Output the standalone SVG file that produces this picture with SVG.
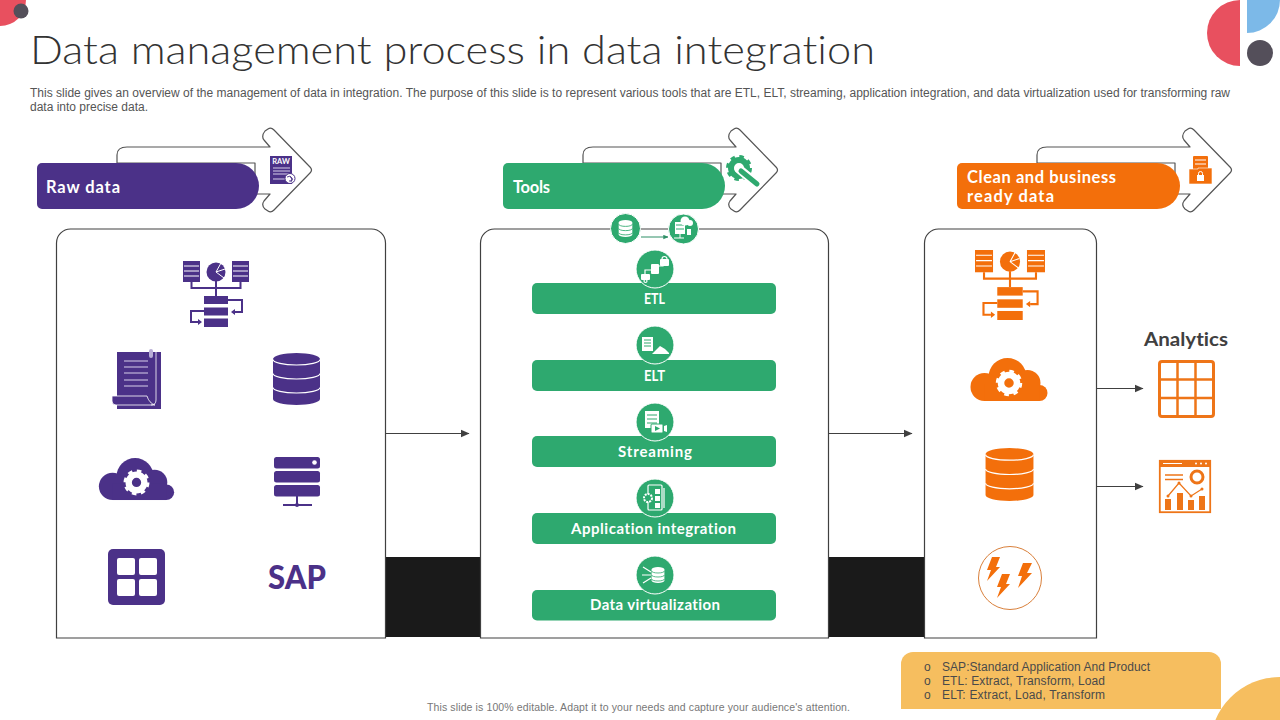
<svg xmlns="http://www.w3.org/2000/svg" width="1280" height="720" viewBox="0 0 1280 720">
<style>
text{font-family:"Lato","Liberation Sans",sans-serif;font-variant-ligatures:none}
.title{font-size:39px;font-weight:300;fill:#333}
.desc{font-family:"Liberation Sans",Arial,sans-serif;font-size:12px;fill:#555}
.foot{font-family:"Liberation Sans",Arial,sans-serif;font-size:10.5px;fill:#777}
.note{font-family:"Liberation Sans",Arial,sans-serif;font-size:12px;fill:#4a4a4a}
.head{font-size:16.5px;font-weight:700;fill:#fff}
.bar{font-size:15px;font-weight:700;fill:#fff;text-anchor:middle}
.panel{fill:#fff;stroke:#404040;stroke-width:1.2}
.outline{fill:#fff;stroke:#555;stroke-width:1.2;stroke-linejoin:round}
.conn{stroke:#404040;stroke-width:1.2;fill:none}
.gbar{fill:#2EA96F}
.gc{fill:#2EA96F;stroke:#fff;stroke-width:1}
.wl{fill:none;stroke:#fff;stroke-width:1.2}
.w{fill:#fff}
</style>
<defs>
<marker id="ah" viewBox="0 0 8 8" refX="7.500" refY="4" markerWidth="9" markerHeight="9" markerUnits="userSpaceOnUse" orient="auto"><path d="M0,0.500L8,4L0,7.500Z" fill="#404040"/></marker>
<marker id="ahg" viewBox="0 0 8 8" refX="7.500" refY="4" markerWidth="5" markerHeight="5" markerUnits="userSpaceOnUse" orient="auto"><path d="M0,0.500L8,4L0,7.500Z" fill="#2E8F66"/></marker>
<path id="arrow" class="outline" d="M117,163V155Q117,147 127,147H270L264,140Q261,136 265,131L268,129Q271,127 274,130L310,167Q313,170 310,173L274,210Q271,213 268,211L265,209Q261,205 264,201L270,194H255V163Z"/>
<symbol id="net" viewBox="0 0 66 66" overflow="visible">
<g fill="currentColor"><rect x="0" y="0" width="17" height="21"/><rect x="49" y="0" width="17" height="21"/><circle cx="33" cy="11" r="9.500"/><rect x="21" y="35" width="24" height="8"/><rect x="21" y="46.500" width="24" height="8"/><rect x="21" y="57.500" width="24" height="8.500"/></g>
<g fill="none" stroke="#fff" stroke-width="1"><path d="M1,5H16M1,10H16M1,15H16M50,5H65M50,10H65M50,15H65M33,11L38,2M33,11L42,8M33,11L41,17"/></g>
<g fill="none" stroke="currentColor" stroke-width="2"><path d="M8.500,21V27H57.500V21M33,20V35M45,39H59V51H52M21,50H8V61H15"/></g>
<path fill="currentColor" d="M52,48V54L48,51ZM15,58V64L19,61Z"/>
</symbol>
<symbol id="db" viewBox="0 0 47 52" overflow="visible">
<path fill="currentColor" d="M0,6A23.500,6 0 0 1 47,6V46A23.500,6 0 0 1 0,46Z"/>
<g fill="none" stroke="#fff" stroke-width="1.200"><path d="M0,6.500A23.500,5.500 0 0 0 47,6.500M0,20.500A23.500,5.500 0 0 0 47,20.500M0,34.500A23.500,5.500 0 0 0 47,34.500"/></g>
</symbol>
<symbol id="cloud" viewBox="0 0 78 44" overflow="visible">
<g fill="currentColor"><circle cx="37" cy="19" r="19"/><circle cx="14" cy="29" r="14"/><circle cx="57" cy="25" r="13"/><circle cx="69" cy="35" r="8"/><rect x="14" y="26" width="55" height="17"/></g>
<circle cx="38.500" cy="25" r="8" fill="none" stroke="#fff" stroke-width="6.500"/>
<circle cx="38.500" cy="25" r="11.500" fill="none" stroke="#fff" stroke-width="3.500" stroke-dasharray="4.500 4.530"/>
</symbol>
<g id="dbw"><path class="w" d="M-8,-7A8,3 0 0 1 8,-7V7A8,3 0 0 1 -8,7Z"/><path fill="none" stroke="#2EA96F" stroke-width="1" d="M-8,-5A8,2.500 0 0 0 8,-5M-8,0A8,2.500 0 0 0 8,0M-8,5A8,2.500 0 0 0 8,5"/></g>
</defs>
<rect width="1280" height="720" fill="#fff"/>
<g id="decor">
<circle cx="0" cy="0" r="26" fill="#E8505F"/><circle cx="21" cy="11" r="7.500" fill="#544F5A"/>
<path d="M1240,0V66A33,33 0 0 1 1240,0Z" fill="#E8505F"/>
<path d="M1247,0V33A33,33 0 0 0 1280,0Z" fill="#7CB9E8"/>
<circle cx="1260" cy="53" r="13" fill="#544F5A"/>
<rect x="386" y="557" width="94" height="80" fill="#1a1a1a"/>
<rect x="829" y="557" width="95" height="80" fill="#1a1a1a"/>
</g>
<text class="title" x="30" y="64" textLength="845" lengthAdjust="spacingAndGlyphs">Data management process in data integration</text>
<text class="desc" x="30" y="96.500" textLength="1200" lengthAdjust="spacing">This slide gives an overview of the management of data in integration. The purpose of this slide is to represent various tools that are ETL, ELT, streaming, application integration, and data virtualization used for transforming raw</text>
<text class="desc" x="30" y="111" textLength="118" lengthAdjust="spacing">data into precise data.</text>
<g id="panel-raw">
<path class="panel" d="M56.500,638V243A14,14 0 0 1 70.500,229H371.500A14,14 0 0 1 385.500,243V638Z"/>
<g color="#4B3188">
<use href="#net" x="183" y="261" width="66" height="66"/>
<g id="doc"><rect x="117" y="352" width="44" height="57" fill="#4B3188"/><path d="M112,396H147Q149,403 155,405H116Q112,405 112,401Z" fill="#4B3188" stroke="#fff" stroke-width="0.800"/><path d="M124,361H148M124,367H148M124,373H148M124,380H148M124,386H148" stroke="#d8d0ea" stroke-width="1.200" fill="none"/><path d="M156,352V400Q156,405 151,405" stroke="#fff" fill="none" stroke-width="0.800"/><rect x="149" y="349" width="4" height="9" rx="2" fill="#b9aed6"/></g>
<use href="#db" x="273" y="353" width="47" height="52"/>
<use href="#cloud" x="98" y="458" width="78" height="43"/>
<g id="server" fill="#4B3188"><rect x="274" y="457" width="46" height="11.500" rx="2.500"/><circle cx="314.500" cy="462.500" r="2.300" fill="#fff"/><rect x="274" y="471" width="46" height="11.500" rx="2.500"/><rect x="274" y="485" width="46" height="11.500" rx="2.500"/><rect x="296" y="496" width="2" height="9"/><rect x="283" y="504" width="29" height="2"/><circle cx="297" cy="505" r="2"/></g>
<g id="apps"><rect x="108" y="549" width="57" height="56" rx="5" fill="#4B3188"/><rect class="w" x="117" y="558" width="18" height="17" rx="2"/><rect class="w" x="139" y="558" width="18" height="17" rx="2"/><rect class="w" x="117" y="579" width="18" height="17" rx="2"/><rect class="w" x="139" y="579" width="18" height="17" rx="2"/></g>
<text x="297" y="589" text-anchor="middle" font-size="32" font-weight="900" fill="#4B3188" textLength="58" lengthAdjust="spacingAndGlyphs">SAP</text>
</g>
</g>
<g id="panel-tools"><path class="panel" d="M480.500,638V243A14,14 0 0 1 494.500,229H814.500A14,14 0 0 1 828.500,243V638Z"/></g>
<g id="panel-clean">
<path class="panel" d="M924.500,638V243A14,14 0 0 1 938.500,229H1082.500A14,14 0 0 1 1096.500,243V638Z"/>
<g color="#F36F0B">
<use href="#net" x="975" y="250" width="70" height="70"/>
<use href="#cloud" x="970" y="358" width="79" height="44"/>
<use href="#db" x="985" y="448" width="49" height="53"/>
<g id="bolts" fill="#F36F0B"><circle cx="1010" cy="578" r="31.500" fill="none" stroke="#D9803B" stroke-width="1"/><path d="M992,557H1000L996,567H1000L987,581L991,570H987Z"/><path d="M1002,574H1010L1006,584H1010L997,598L1001,587H997Z"/><path d="M1023,563H1032L1027,573H1032L1018,588L1022,576H1018Z"/></g>
</g>
</g>
<g id="connectors">
<path class="conn" d="M386,433.500H469" marker-end="url(#ah)"/>
<path class="conn" d="M829,433.500H912" marker-end="url(#ah)"/>
<path class="conn" d="M1097,388.500H1143" marker-end="url(#ah)"/>
<path class="conn" d="M1097,486.500H1143" marker-end="url(#ah)"/>
<path d="M641,237H668" stroke="#2E8F66" stroke-width="1" fill="none" marker-end="url(#ahg)"/>
</g>
<g id="node-raw">
<use href="#arrow"/>
<path d="M42,163H236A23,23 0 0 1 236,209H42A5,5 0 0 1 37,204V168A5,5 0 0 1 42,163Z" fill="#4B3188"/>
<text class="head" x="46" y="193" textLength="74" lengthAdjust="spacing">Raw data</text>
<g id="raw-icon"><rect x="270" y="156" width="22" height="28" fill="#4B3188"/><text x="281" y="164" font-size="7.500" font-weight="700" fill="#fff" text-anchor="middle">RAW</text><path d="M273,168H290M273,171H290M273,174H290M273,179H285" stroke="#d8d0ea" stroke-width="1.200" fill="none"/><circle cx="290" cy="178.500" r="5" fill="#fff" stroke="#4B3188" stroke-width="1"/><path d="M287,177Q290,175 292,178T289,181M290,176Q293,179 291,182" stroke="#4B3188" stroke-width="0.900" fill="none"/></g>
</g>
<g id="node-tools">
<use href="#arrow" x="466"/>
<path d="M508,163H702A23,23 0 0 1 702,209H508A5,5 0 0 1 503,204V168A5,5 0 0 1 508,163Z" fill="#2EA96F"/>
<text class="head" x="513" y="193" textLength="37" lengthAdjust="spacing">Tools</text>
<g id="tools-icon"><circle cx="739" cy="168" r="8" fill="none" stroke="#2EA96F" stroke-width="6"/><circle cx="739" cy="168" r="11.500" fill="none" stroke="#2EA96F" stroke-width="3" stroke-dasharray="4.500 4.530"/><path d="M739,169L757,184" stroke="#fff" stroke-width="9" stroke-linecap="round"/><path d="M741,171L757,184" stroke="#2EA96F" stroke-width="5" stroke-linecap="round"/></g>
<circle class="gc" cx="625.500" cy="228.500" r="15"/>
<use href="#dbw" transform="translate(625.500,228.500) scale(0.850)"/>
<circle class="gc" cx="683.500" cy="229" r="15"/>
<g id="cloud-server"><rect x="675" y="222" width="10" height="12" class="w"/><path d="M676,225H684M676,229H684" stroke="#2EA96F" fill="none"/><circle cx="685" cy="221" r="4.500" class="w"/><circle cx="690" cy="223" r="3" class="w"/><path d="M674,238H684M680,234V238" stroke="#fff" fill="none"/><rect x="687" y="229" width="4" height="6" class="w"/></g>
</g>
<g id="node-etl">
<rect class="gbar" x="532" y="283" width="244" height="31" rx="5"/>
<circle class="gc" cx="655" cy="269" r="19"/>
<path class="wl" d="M645,275V270H653M663,262V266H658"/>
<rect class="w" x="651" y="264" width="8" height="10" rx="1"/><rect class="w" x="660" y="259" width="9" height="7" rx="1"/><path class="wl" d="M662,259A2.500,2.500 0 0 1 667,259"/><rect class="w" x="641" y="274" width="9" height="6" rx="1"/><circle class="wl" cx="645.500" cy="281" r="1.500"/>
<text class="bar" x="654.500" y="304" textLength="21" lengthAdjust="spacingAndGlyphs">ETL</text>
</g>
<g id="node-elt">
<rect class="gbar" x="532" y="360" width="244" height="31" rx="5"/>
<circle class="gc" cx="655" cy="345" r="19"/>
<rect class="w" x="642" y="337" width="11" height="14"/><path d="M644,340H651M644,343H651M644,346H651" stroke="#2EA96F" fill="none"/><path class="w" d="M652,354L660,346L665,349L669,353V354Z"/>
<text class="bar" x="654.500" y="381" textLength="21" lengthAdjust="spacingAndGlyphs">ELT</text>
</g>
<g id="node-streaming">
<rect class="gbar" x="532" y="436" width="244" height="31" rx="5"/>
<circle class="gc" cx="655" cy="422" r="19"/>
<rect class="w" x="645" y="411" width="14" height="17"/><path d="M647,415H657M647,419H657M647,423H657" stroke="#2EA96F" fill="none"/><rect class="w" x="651" y="424" width="12" height="9" rx="1" stroke="#2EA96F"/><path d="M655,426V431L660,428.500Z" fill="#2EA96F"/><path class="w" d="M664,426L667,425V432L664,431Z"/>
<text class="bar" x="655" y="457" textLength="74" lengthAdjust="spacing">Streaming</text>
</g>
<g id="node-app">
<rect class="gbar" x="532" y="513" width="244" height="31" rx="5"/>
<circle class="gc" cx="655" cy="498" r="19"/>
<rect class="wl" x="648" y="485" width="14" height="25" rx="1"/><path class="wl" d="M664,488V508"/><rect class="w" x="655" y="489" width="5" height="5"/><rect class="w" x="655" y="496" width="5" height="5"/><rect class="w" x="655" y="503" width="5" height="5"/><circle cx="648" cy="498" r="4" fill="#2EA96F" stroke="#fff" stroke-width="2" stroke-dasharray="2 1"/>
<text class="bar" x="653.500" y="534" textLength="165" lengthAdjust="spacing">Application integration</text>
</g>
<g id="node-virt">
<rect class="gbar" x="532" y="590" width="244" height="30.500" rx="5"/>
<circle class="gc" cx="655" cy="575" r="19"/>
<use href="#dbw" transform="translate(658,575) scale(0.800)"/>
<path class="wl" d="M642,575H651M643,567L651,572M643,583L651,578"/>
<text class="bar" x="655" y="610" textLength="130" lengthAdjust="spacing">Data virtualization</text>
</g>
<g id="node-clean">
<use href="#arrow" x="920"/>
<path d="M962,163H1157A23,23 0 0 1 1157,209H962A5,5 0 0 1 957,204V168A5,5 0 0 1 962,163Z" fill="#F36F0B"/>
<text class="head" x="967" y="183" textLength="149" lengthAdjust="spacing">Clean and business</text>
<text class="head" x="967" y="202" textLength="87" lengthAdjust="spacing">ready data</text>
<g id="clean-icon"><rect x="1193" y="156" width="15" height="14" rx="1" fill="#F36F0B"/><path d="M1195,160H1206M1195,164H1206" stroke="#fff" fill="none"/><path d="M1189,169H1198V168H1212V184H1189Z" fill="#F36F0B" stroke="#fff" stroke-width="0.600"/><rect x="1197" y="175" width="7" height="6" fill="#fff"/><path d="M1198.500,175V173.500A2,2 0 0 1 1202.500,173.500V175" stroke="#fff" fill="none"/></g>
</g>
<g id="node-analytics">
<text x="1186" y="346" text-anchor="middle" font-size="19.500" font-weight="700" fill="#404040" textLength="84" lengthAdjust="spacingAndGlyphs">Analytics</text>
<g id="table" fill="none" stroke="#EE7518" stroke-width="2.500"><rect x="1159.500" y="361.500" width="54" height="55" rx="2.500" stroke-width="3"/><path d="M1177.500,361V417M1195.500,361V417M1159,379.500H1215M1159,398H1215"/></g>
<g id="dashboard"><rect x="1159.800" y="460.800" width="50.400" height="51.400" fill="none" stroke="#EE7518" stroke-width="1.800"/><rect x="1159" y="460" width="52" height="7" fill="#EE7518"/><path d="M1163,463.500H1182" stroke="#fff" stroke-width="1" fill="none"/><circle cx="1196" cy="463.500" r="1" fill="#fff"/><circle cx="1201" cy="463.500" r="1" fill="#fff"/><circle cx="1206" cy="463.500" r="1" fill="#fff"/><circle cx="1197" cy="477" r="6" fill="none" stroke="#EE7518" stroke-width="3"/><path d="M1165,475H1183M1165,479.500H1183" stroke="#EE7518" stroke-width="1.300" fill="none"/><path d="M1168,496L1179,483L1191,496L1202,489" stroke="#EE7518" stroke-width="1.200" fill="none"/><circle cx="1168" cy="496" r="1.500" fill="#EE7518"/><circle cx="1179" cy="483" r="1.500" fill="#EE7518"/><circle cx="1191" cy="496" r="1.500" fill="#EE7518"/><circle cx="1202" cy="489" r="1.500" fill="#EE7518"/><g fill="#EE7518"><rect x="1165" y="499" width="6" height="11"/><rect x="1177" y="493" width="6" height="17"/><rect x="1188" y="500" width="6" height="10"/><rect x="1199" y="496" width="6" height="14"/></g></g>
</g>
<g id="legend">
<circle cx="1280" cy="747" r="70" fill="#F6BE5F"/>
<path d="M901,709V664A12,12 0 0 1 913,652H1209A12,12 0 0 1 1221,664V709Z" fill="#F6BE5F"/>
<text class="note" x="924" y="671">o</text><text class="note" x="942" y="671" textLength="208" lengthAdjust="spacing">SAP:Standard Application And Product</text>
<text class="note" x="924" y="685">o</text><text class="note" x="942" y="685" textLength="163" lengthAdjust="spacing">ETL: Extract, Transform, Load</text>
<text class="note" x="924" y="699">o</text><text class="note" x="942" y="699" textLength="163" lengthAdjust="spacing">ELT: Extract, Load, Transform</text>
</g>
<text class="foot" x="427" y="711" textLength="423" lengthAdjust="spacing">This slide is 100% editable. Adapt it to your needs and capture your audience's attention.</text>
</svg>
